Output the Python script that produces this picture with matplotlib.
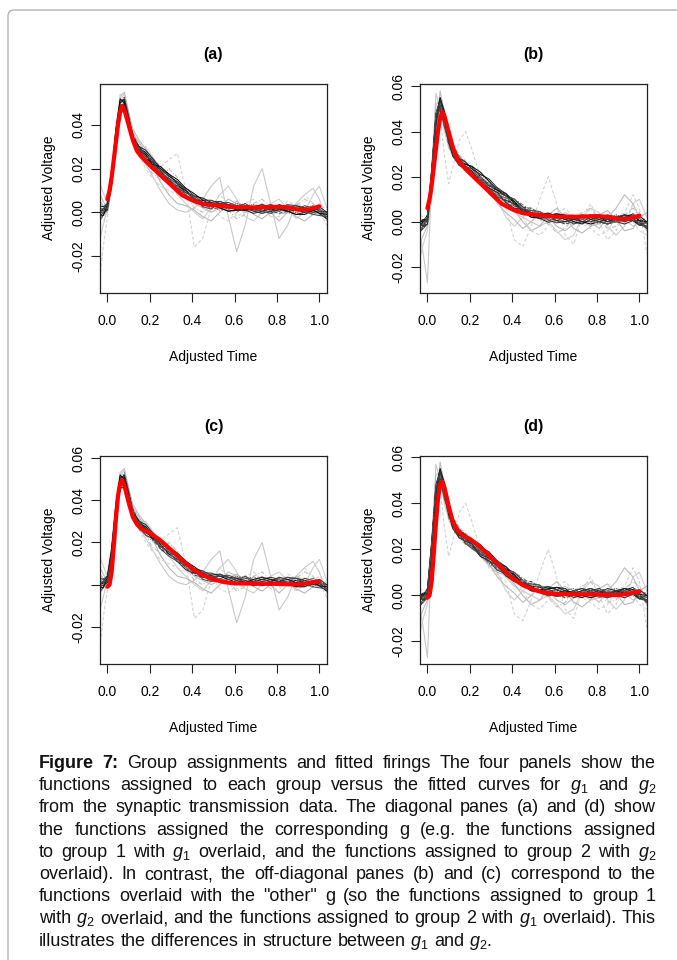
import numpy as np
import matplotlib
matplotlib.use("Agg")
import matplotlib.pyplot as plt
from matplotlib.patches import FancyBboxPatch

plt.rcParams['font.family'] = ['Liberation Sans', 'DejaVu Sans']
plt.rcParams['axes.unicode_minus'] = False
plt.rcParams['mathtext.fontset'] = 'custom'
plt.rcParams['mathtext.rm'] = 'Liberation Sans'
plt.rcParams['mathtext.it'] = 'Liberation Sans:italic'

# ---- data (voltages in units of 1e-3) ----
# time grid for the observed (gray) functions
T = [-0.035, -0.02, 0.0, 0.02, 0.04, 0.06, 0.08, 0.10, 0.12, 0.15, 0.18, 0.21,
     0.25, 0.29, 0.33, 0.37, 0.41, 0.45, 0.49, 0.53, 0.57, 0.61, 0.65, 0.69,
     0.73, 0.77, 0.81, 0.85, 0.89, 0.93, 0.97, 1.0, 1.035]

# band centre of group 1 / group 2 functions
centre_g1 = [0, 0.5, 3, 15, 35, 48, 49, 42, 34, 28, 25.5, 23, 19, 15.5, 12, 9, 6.5,
             4.5, 3.5, 3, 2.5, 2, 2, 1.5, 1.5, 1.5, 1.5, 1.5, 1, 1, 1, 0.5, -1]
centre_g2 = [-1.5, -1, 1, 20, 45, 52, 45, 37, 31, 27, 24.5, 22.5, 19, 16, 13, 10.5, 8,
             5.5, 4, 2.5, 1.8, 1.5, 1, 1, 1, 1, 1, 1, 1, 1, 1.5, 0.5, -1]

# individual dark functions, as offsets from the band centre
dark_g1 = [
    [1, 0, 0, 1, 2, 3, 2, 1, 0, 1, 2, 1, 0, -1, 0, 1, 0, -1, 0, 1, 0, -1, -1, 0, 1, 0, -1, 0, 1, 0, -1, 0, 1],
    [-2, -1, -1, -2, -3, -1, 0, 1, 2, 1, 0, -1, -2, -1, 0, -1, -2, -1, 1, 0, -1, 0, 1, 1, 0, -1, -2, -1, 0, 1, 0, -1, -2],
    [3, 2, 1, 0, 1, 2, 3, 2, 1, 0, -1, 0, 1, 2, 1, 0, 1, 2, 1, -1, -2, -1, 0, -1, -2, -1, 0, 1, 2, 1, 0, 1, 0],
    [-1, 0, 1, 2, 0, -2, -1, 0, -1, -2, -1, 1, 0, 1, 2, 1, 0, 0, -1, -2, -1, 0, 1, 2, 1, 0, 1, 0, -1, -2, -1, 0, 1],
    [0, -1, -2, -3, -2, 0, 1, 0, 1, 2, 1, 0, -1, 0, -1, -2, -1, 1, 2, 1, 1, 0, -1, 0, 1, 2, 1, -1, -2, -1, 0, -1, -2],
    [2, 1, 0, 2, 3, 1, -1, -2, -1, 0, 1, 2, 1, 0, -1, 0, 1, 0, -2, -1, 0, 1, 2, 0, -1, 0, 1, 2, 0, -1, -2, 0, 1],
    [-3, -2, -1, 0, -1, 1, 0, -1, 0, -1, -2, -1, -1, 0, 1, 2, 1, 0, 0, 1, 2, 1, 0, -1, 0, 1, 0, -1, 0, 2, 1, 0, -1],
    [1, 1, 2, 1, -1, -3, -2, 0, 1, 1, 0, 2, 2, 1, 0, -1, -1, -2, -1, 0, -1, -2, 0, 1, -1, -2, -1, 0, 1, 0, 2, 1, 0],
    [0, 1, 1, 0, -1, -2, -3, -1, 0, 2, 3, 2, 1, 1, 2, 1, -1, 0, 1, 2, 1, 1, -1, -2, -1, 0, 2, 1, 0, -1, 0, 2, 1],
    [2, 0, -1, -1, 1, 2, 4, 3, 1, -1, -2, -2, -1, 0, -1, -1, 0, 2, 1, -1, 0, 2, 1, 0, -2, -1, 0, -2, -1, 1, 2, 1, -1],
    [-1, -2, 0, 2, 3, 4, 1, -1, -2, 0, 1, -1, 2, 2, 3, 2, 2, 1, 0, -1, -2, -1, -1, 1, 2, 1, 0, -1, -2, -2, 0, -1, 0],
    [0, 1, -1, -1, 0, -1, -2, -2, 0, 1, 0, 1, -2, -2, -1, 0, 0, -2, -2, 2, 1, 0, 2, 0, -1, -2, 0, 2, 2, 0, -2, -2, -1],
]
dark_g2 = [
    [0, 1, 2, 3, 2, 1, -1, -2, -1, 0, 1, 2, 1, 0, 1, 2, 1, 0, -1, 0, 1, 2, 1, 0, -1, -2, -1, 0, 1, 0, -1, -2, -1],
    [-2, -2, -1, -3, -2, 0, 2, 1, 0, -1, -2, -1, 0, 1, 0, -1, 0, 1, 2, 1, 0, -1, -2, -1, 0, 1, 2, 1, 0, -1, 0, 1, 0],
    [2, 1, 0, 1, 3, 2, 0, 1, 2, 1, 0, -1, -2, -1, -2, -1, 0, -1, 0, 1, 2, 1, 0, 1, 2, 0, -1, -2, -1, 1, 2, 0, -2],
    [-1, 0, -1, -2, -4, -1, 1, 2, 1, 2, 2, 1, 2, 2, 1, 0, -1, -2, -1, 0, -1, 0, 1, 2, 0, -1, 0, 1, 2, 1, -1, -1, 0],
    [1, 0, 1, 2, 1, 2, 3, 3, 2, 1, 0, 0, -1, 0, 2, 1, 2, 1, 0, -1, -2, -1, 1, 0, 1, 2, 1, 0, -1, -2, -1, 0, 1],
    [0, -1, 0, -1, -1, 1, -2, -3, -2, -1, -1, -2, -1, -2, -1, 0, 1, 0, 1, 2, 1, 0, -1, -1, 1, 0, -2, -1, 0, 1, 1, 0, -1],
    [-3, -2, -2, 0, 2, 3, 1, 0, -1, -2, 0, 1, 0, -1, 0, 1, 2, 1, -1, -1, 0, 1, 0, -2, -1, 1, 2, 0, 1, 2, 0, -1, -1],
    [2, 2, 1, -1, -3, -2, 0, 2, 3, 2, 1, 2, 1, 1, -1, -2, -1, 1, 0, -1, -1, -2, 0, 1, 2, 1, -1, -2, -1, 0, -1, 1, 2],
    [1, -1, 0, 1, 0, -1, -1, 0, 0, 1, 2, 1, 2, 3, 2, 2, 0, -1, -2, 0, 2, 1, 0, 1, -1, -1, 0, 2, 1, -1, 0, 2, 1],
    [-1, 0, 1, 0, -2, 0, 2, 0, -1, 0, -1, 0, -1, -2, -2, -1, -2, -1, 1, 1, 0, -1, -2, 0, 0, 1, 1, -1, -1, 0, 1, -2, -1],
    [1, 2, 0, -2, -1, 3, 4, 2, 0, -1, 1, 2, 3, 2, 1, 1, 1, -1, -2, -1, 1, 2, 2, -1, -2, 0, 1, -1, 0, 2, 1, 0, 1],
    [-2, -1, 1, 2, 1, -2, -3, -1, 1, 0, -2, -2, -1, 0, 2, 1, -1, 0, 1, 2, -1, -2, -1, 1, 2, 1, -1, -2, 0, 1, -1, -1, -2],
    [0, 0, -1, 1, 3, 1, -1, 1, 2, 2, 0, -1, 1, -1, -1, 0, 2, 2, 1, 0, -2, 0, 2, 1, 0, -1, 1, 1, -1, -1, 2, 1, 0],
    [1, -1, -2, -2, 0, 2, 2, -1, -2, -2, -1, 0, -2, -1, 0, -2, -2, 0, 0, -1, 1, -1, -1, 0, 1, 2, 0, -1, 1, 2, 0, -2, 1],
]

# noisier light functions (absolute values)
light_g1 = [
    [-12, -6, 2, 16, 36, 50, 51, 42, 33, 27, 22, 17, 10, 4, 1, 0, 2, 6, 12, 16, -2, -18, -6, 12, 20, 4, -12, -6, 4, 8, 11, 6, -4],
    [-30, -16, -2, 12, 32, 46, 52, 45, 36, 30, 26, 24, 21, 24, 27, 10, -16, -12, 2, 8, 4, -2, 0, 4, 2, -2, 1, 5, 3, 0, 2, 4, 1],
    [13, 9, 4, 18, 38, 52, 54, 44, 34, 30, 30, 26, 20, 14, 8, 4, 0, -3, 2, 8, 12, 6, -2, -4, 0, 4, 6, 2, -3, 0, 8, 12, 2],
    [5, 3, 1, 14, 34, 50, 52, 43, 36, 32, 27, 22, 14, 8, 4, 3, 1, -2, -4, 0, 3, 5, 2, -1, -3, 0, 3, 1, -2, -4, -1, 2, -3],
    [-4, -2, 0, 13, 33, 47, 50, 44, 37, 31, 24, 18, 15, 20, 16, 8, 2, 0, 3, 5, 1, -3, -1, 4, 6, 2, -1, 0, 3, 6, 4, 0, -2],
    [8, 5, 2, 17, 37, 53, 55, 46, 38, 33, 29, 25, 20, 17, 13, 8, 4, 2, 0, 2, 6, 4, 0, 2, 4, 0, -4, 0, 4, 2, 0, -1, -2],
    [-2, 0, 4, 20, 40, 54, 50, 40, 32, 26, 20, 16, 12, 10, 8, 6, 5, 6, 4, -2, -4, 0, 4, 6, 2, -2, -2, 2, 4, 8, 4, 1, -6],
]
light_g2 = [
    [-6, -14, -27, 18, 57, 50, 40, 33, 29, 27, 24, 22, 18, 15, 12, 8, 4, 2, 0, -2, 0, 2, 4, 2, 0, -2, -1, 2, 3, 1, -2, -1, 0],
    [-4, -3, -1, 22, 50, 46, 30, 17, 24, 36, 40, 32, 20, 12, 9, 6, -8, -11, -2, 10, 20, 8, -6, -10, 2, 8, 0, -8, -4, 4, 12, 6, -14],
    [-16, -10, -4, 16, 42, 52, 46, 38, 33, 28, 24, 21, 20, 17, 10, 2, -2, 2, 6, 4, 0, -4, -8, -6, 2, 6, 4, -2, -6, -2, 8, 10, 2],
    [1, 0, 2, 24, 52, 54, 44, 36, 31, 29, 26, 22, 17, 13, 10, 9, 5, 0, -4, -2, 3, 6, 2, -3, -5, -2, 3, 5, 1, -4, -3, 2, 4],
    [-2, -1, 0, 18, 46, 55, 47, 38, 30, 25, 22, 21, 20, 15, 12, 8, 6, 5, 3, 1, -1, -5, -3, 2, 4, 6, 1, -3, -2, 3, 6, 4, -1],
    [-10, -6, -2, 10, 40, 58, 48, 36, 30, 26, 23, 20, 18, 14, 8, 4, 1, -3, 0, 4, 2, -2, -4, -1, 2, 0, -3, 2, 6, 12, 8, 2, -4],
    [3, 2, 0, 14, 38, 52, 50, 40, 34, 30, 27, 25, 22, 18, 14, 12, 8, 2, -4, -6, -2, 4, 6, 2, -1, -3, -6, -4, 2, 4, 0, -4, -6],
]

# fitted curves g1 and g2
RT = [0, 0.01, 0.02, 0.03, 0.04, 0.05, 0.06, 0.07, 0.08, 0.10, 0.12, 0.14, 0.16,
      0.20, 0.25, 0.30, 0.35, 0.40, 0.45, 0.50, 0.55, 0.60, 0.70, 0.80, 0.85,
      0.90, 0.95, 1.0]
fit_g1 = [6, 10, 16, 24, 32, 40, 46, 48.8, 47, 40, 33, 28, 25.5, 21.5, 17, 12.5,
          8, 5.5, 3.8, 3.2, 2.8, 2.3, 2.2, 2.5, 2.2, 1.2, 1.3, 2.7]
fit_g2 = [-1, 0, 6, 18, 31, 42, 48, 49.5, 47, 39, 32, 28.5, 26.5, 24.5, 21, 16.5,
          12, 7.5, 4.5, 2.5, 1.2, 0.6, 0.5, 0.4, 0.2, 0.1, 0.8, 1.7]

x_ticks = [0.0, 0.2, 0.4, 0.6, 0.8, 1.0]
y_ticks_a = [-0.02, 0.0, 0.02, 0.04]
y_ticks = [-0.02, 0.0, 0.02, 0.04, 0.06]

dark_cols = ['#000000', '#3a3a3a', '#1a1a1a', '#555555', '#2b2b2b', '#6e6e6e',
             '#444444', '#808080', '#262626', '#5e5e5e', '#111111', '#4a4a4a',
             '#707070', '#333333']
dark_ls = ['-', (0, (3, 2)), '-', (0, (1, 1.2)), '-', (0, (4, 1.5, 1, 1.5)),
           '-', (0, (3, 2)), '-', (0, (1, 1.2)), '-', '-', (0, (4, 1.5, 1, 1.5)), '-']
light_cols = ['#c8c8c8', '#d2d2d2', '#cfcfcf', '#b8b8b8', '#c0c0c0', '#bcbcbc', '#d4d4d4']
light_ls = ['-', (0, (3, 2)), '-', '-', (0, (4, 1.5, 1, 1.5)), '-', (0, (3, 2))]

W, H = 677, 960
fig = plt.figure(figsize=(W / 100, H / 100), dpi=100)
fig.patch.set_facecolor('white')

# rounded frame of the journal page
frame = FancyBboxPatch((0.08, -1.0), 8.0, (H - 10) / 100 + 1.0,
                       boxstyle="round,pad=0,rounding_size=0.06",
                       transform=fig.dpi_scale_trans, fill=False,
                       edgecolor='#b4b4b4', lw=1.0)
fig.patches.append(frame)


def add_axes(left, top, right, bottom):
    return fig.add_axes([left / W, 1 - bottom / H, (right - left) / W, (bottom - top) / H])


def panel(ax, centre, dark, light, fit, ylim, yticks, ylabels, title):
    c = np.array(centre)
    for i, vals in enumerate(light):
        ax.plot(T, np.array(vals) * 1e-3, color=light_cols[i], ls=light_ls[i], lw=0.8)
    for i, off in enumerate(dark):
        ax.plot(T, (c + np.array(off)) * 1e-3, color=dark_cols[i], ls=dark_ls[i], lw=0.75)
    ax.plot(RT, np.array(fit) * 1e-3, color='#ff0000', lw=3.0, solid_capstyle='round')
    ax.set_xlim(-0.035, 1.036)
    ax.set_ylim(ylim)
    ax.set_xticks(x_ticks)
    ax.set_xticklabels(['%.1f' % v for v in x_ticks], fontsize=10)
    ax.set_yticks(yticks)
    ax.set_yticklabels(ylabels, rotation=90, va='center', fontsize=10)
    ax.tick_params(direction='out', length=6.8, width=0.8, color='#222222')
    ax.tick_params(axis='x', pad=8)
    ax.tick_params(axis='y', pad=3.5)
    for s in ax.spines.values():
        s.set_linewidth(0.9)
        s.set_color('#222222')
    ax.set_xlabel('Adjusted Time', fontsize=10, labelpad=16)
    ax.set_ylabel('Adjusted Voltage', fontsize=10, labelpad=11)
    ax.set_title(title, fontsize=11.5, fontweight='bold', pad=18)


labs_a = ['-0.02', '0.00', '0.02', '0.04']
labs_full = ['-0.02', '0.00', '0.02', '0.04', '0.06']
labs_c = ['-0.02', '', '0.02', '0.04', '0.06']

ax_a = add_axes(100, 83.5, 327, 293)
ax_b = add_axes(420, 83.5, 647, 293)
ax_c = add_axes(100, 455.5, 327, 664)
ax_d = add_axes(420, 455.5, 647, 664)

panel(ax_a, centre_g1, dark_g1, light_g1, fit_g1, (-0.037, 0.059), y_ticks_a, labs_a, '(a)')
panel(ax_b, centre_g2, dark_g2, light_g2, fit_g1, (-0.0316, 0.0613), y_ticks, labs_full, '(b)')
panel(ax_c, centre_g1, dark_g1, light_g1, fit_g2, (-0.0376, 0.0612), y_ticks, labs_c, '(c)')
panel(ax_d, centre_g2, dark_g2, light_g2, fit_g2, (-0.0298, 0.0608), y_ticks, labs_full, '(d)')

# ---- caption, justified line by line ----
caption_lines = [
    "Figure 7: Group assignments and fitted firings The four panels show the",
    "functions assigned to each group versus the fitted curves for $g_1$ and $g_2$",
    "from the synaptic transmission data. The diagonal panes (a) and (d) show",
    "the functions assigned the corresponding g (e.g. the functions assigned",
    "to group 1 with $g_1$ overlaid, and the functions assigned to group 2 with $g_2$",
    "overlaid). In contrast, the off-diagonal panes (b) and (c) correspond to the",
    "functions overlaid with the \"other\" g (so the functions assigned to group 1",
    "with $g_2$ overlaid, and the functions assigned to group 2 with $g_1$ overlaid). This",
    "illustrates the differences in structure between $g_1$ and $g_2$.",
]
CAP_X0, CAP_X1 = 39, 656
CAP_Y0, CAP_DY = 768, 22.2

renderer = fig.canvas.get_renderer()


def width_of(t):
    return t.get_window_extent(renderer).width


# size the caption font so the tightest line (line 8) fills the column
probe = fig.text(0, 0, caption_lines[7], fontsize=11)
CAP_FS = 11 * (CAP_X1 - CAP_X0 - 4) / width_of(probe)
probe.remove()

probe1 = fig.text(0, 0, "x x", fontsize=CAP_FS)
probe2 = fig.text(0, 0, "xx", fontsize=CAP_FS)
space_w = width_of(probe1) - width_of(probe2)
probe1.remove()
probe2.remove()

for k, line in enumerate(caption_lines):
    y = 1 - (CAP_Y0 + k * CAP_DY) / H
    words = line.split(' ')
    texts = []
    for j, w in enumerate(words):
        bold = (k == 0 and j < 2)
        texts.append(fig.text(0, y, w, fontsize=CAP_FS, va='baseline', ha='left',
                              fontweight='bold' if bold else 'normal', color='#111111'))
    widths = [width_of(t) for t in texts]
    if k < len(caption_lines) - 1:
        gap = (CAP_X1 - CAP_X0 - sum(widths)) / (len(words) - 1)
    else:
        gap = space_w
    x = CAP_X0
    for t, w in zip(texts, widths):
        t.set_x(x / W)
        x += w + gap

fig.savefig('out.png', dpi=100)
